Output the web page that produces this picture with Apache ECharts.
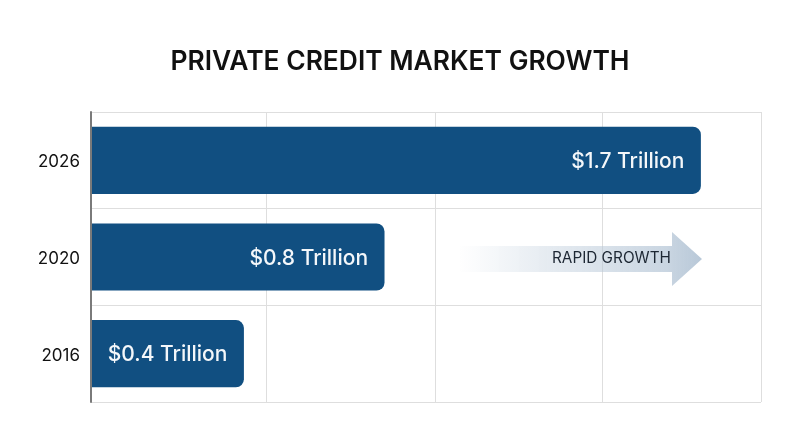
<!DOCTYPE html>
<html>
<head>
<meta charset="utf-8">
<title>Private Credit Market Growth</title>
<style>
  html, body { margin: 0; padding: 0; background: #fff; }
  #chart { width: 800px; height: 447px; }
</style>
<script src="https://cdn.jsdelivr.net/npm/echarts@6/dist/echarts.min.js"></script>
</head>
<body>
<div id="chart"></div>
<script>
const years = ['2016', '2020', '2026'];
const trillions = [0.4, 0.8, 1.7];
const barLabels = ['$0.4 Trillion', '$0.8 Trillion', '$1.7 Trillion'];
const gridValues = [0.464, 0.945, 1.42, 1.871];

const fontName = 'Inter';
const barColor = '#114f81';

const chart = echarts.init(document.getElementById('chart'));

// 柱子从坐标轴起画，只有右侧圆角
function renderBar(params, api) {
  const end = api.coord([api.value(0), api.value(1)]);
  const height = api.size([0, 1])[1] * 0.695;
  const left = params.coordSys.x;
  return {
    type: 'group',
    children: [
      {
        type: 'rect',
        shape: { x: left, y: end[1] - height / 2, width: end[0] - left, height: height, r: [0, 8, 8, 0] },
        style: { fill: barColor }
      },
      {
        type: 'text',
        style: {
          x: end[0] - 16.5,
          y: end[1] + 1.5,
          text: barLabels[params.dataIndex],
          fill: '#f4f7fa',
          font: '500 21px ' + fontName,
          align: 'right',
          verticalAlign: 'middle'
        }
      }
    ]
  };
}

chart.setOption({
  animation: false,
  title: {
    text: 'PRIVATE CREDIT MARKET GROWTH',
    left: 'center',
    top: 44,
    textStyle: { fontFamily: fontName, fontSize: 26.4, fontWeight: 600, color: '#111' }
  },
  grid: { left: 91, right: 39, top: 112, bottom: 45 },
  xAxis: {
    type: 'value',
    min: -0.035,
    max: 1.871,
    axisLine: { show: false },
    axisLabel: { show: false },
    axisTick: { show: false, customValues: gridValues },
    splitLine: { show: true, lineStyle: { color: '#dedede', width: 1 } }
  },
  yAxis: {
    type: 'category',
    data: years,
    z: 4,
    axisLine: { show: true, onZero: false, lineStyle: { color: '#7a7a7a', width: 2 } },
    axisTick: { show: false },
    axisLabel: { margin: 11, fontFamily: fontName, fontSize: 17, color: '#111', verticalAlign: 'top', lineHeight: 4 },
    splitLine: { show: true, lineStyle: { color: '#dedede', width: 1 } }
  },
  series: [
    {
      type: 'custom',
      renderItem: renderBar,
      encode: { x: 0, y: 1 },
      data: trillions.map((value, index) => [value, index]),
      z: 3
    }
  ],
  graphic: [
    {
      type: 'polygon',
      z: 5,
      shape: {
        points: [[460, 246], [672, 246], [672, 232], [702, 259], [672, 286], [672, 272], [460, 272]]
      },
      style: {
        fill: new echarts.graphic.LinearGradient(0, 0, 1, 0, [
          { offset: 0, color: 'rgba(184, 200, 216, 0)' },
          { offset: 0.35, color: 'rgba(184, 200, 216, 0.35)' },
          { offset: 0.85, color: 'rgba(184, 200, 216, 0.75)' },
          { offset: 1, color: 'rgba(184, 200, 216, 1)' }
        ])
      }
    },
    {
      type: 'text',
      z: 6,
      x: 552,
      y: 258.5,
      style: {
        text: 'RAPID GROWTH',
        fill: '#1d2733',
        font: '400 15.3px ' + fontName,
        verticalAlign: 'middle'
      }
    }
  ]
});
</script>
</body>
</html>
